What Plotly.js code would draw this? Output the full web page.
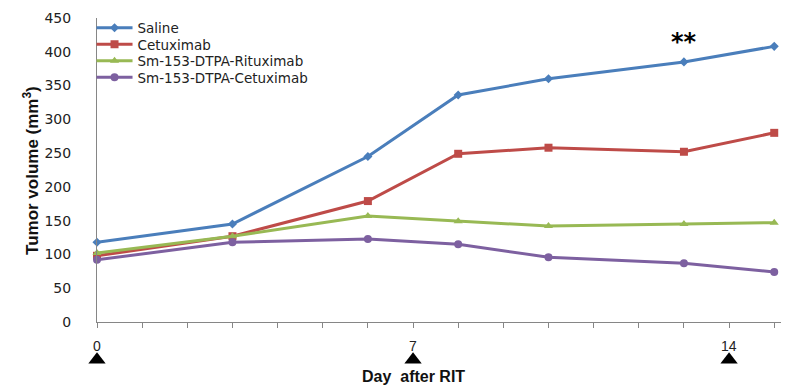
<!DOCTYPE html>
<html>
<head>
<meta charset="utf-8">
<script src="https://cdn.plot.ly/plotly-3.0.1.min.js"></script>
<style>html,body{margin:0;padding:0;background:#fff;}#chart{width:810px;height:390px;}</style>
</head>
<body>
<div id="chart"></div>
<script>
// Data
const days = [0, 3, 6, 8, 10, 13, 15];
const seriesNames = ["Saline", "Cetuximab", "Sm-153-DTPA-Rituximab", "Sm-153-DTPA-Cetuximab"];
const saline = [118, 145, 245, 336, 360, 385, 408];
const cetuximab = [98, 127, 179, 249, 258, 252, 280];
const smRituximab = [102, 127, 157, 149, 142, 145, 147];
const smCetuximab = [92, 118, 123, 115, 96, 87, 74];
const ritDays = [0, 7, 14];
const ritLabels = ["0", "7", "14"];
const allDays = [0,1,2,3,4,5,6,7,8,9,10,11,12,13,14,15];
const yTicks = [0, 50, 100, 150, 200, 250, 300, 350, 400, 450];
const sigDay = 13;
const sigValue = 415;
const sigLabel = "**";

const colors = ["#4A7EBB", "#BE4B48", "#98B954", "#7D60A0"];
const symbols = ["diamond", "square", "triangle-up", "circle"];
const msizes = [7, 8, 8, 8];
const values = [saline, cetuximab, smRituximab, smCetuximab];
const legendIds = ["legend", "legend2", "legend3", "legend4"];
const legendY = [0.9731, 0.9288, 0.8844, 0.8401];

const traces = values.map((v, i) => ({
  x: days, y: v, name: seriesNames[i], type: "scatter", mode: "lines+markers",
  line: {color: colors[i], width: 3},
  marker: {color: colors[i], symbol: symbols[i], size: msizes[i]},
  cliponaxis: false, legend: legendIds[i]
}));

// RIT dose markers in a strip below the axis
traces.push({
  x: ritDays, y: ritDays.map(() => 48), xaxis: "x2", yaxis: "y2", type: "scatter", mode: "markers",
  marker: {symbol: "triangle-up", color: "#000", size: 15},
  showlegend: false, cliponaxis: false, hoverinfo: "skip"
});

const annotations = ritDays.map((d, i) => ({
  x: d, y: 69, xref: "x2", yref: "y2", text: ritLabels[i], showarrow: false,
  font: {family: "Liberation Sans Narrow, Liberation Sans, Arial", size: 14, color: "#222"}
}));
annotations.push({
  x: 7, y: 22, xref: "x2", yref: "y2", text: "Day  after RIT", showarrow: false,
  font: {family: "Liberation Sans, Arial", size: 16, color: "#111", weight: "bold"}
});
annotations.push({
  x: -0.1155, y: 0.5914, xref: "paper", yref: "paper", text: "Tumor volume (mm<sup>3</sup>)",
  showarrow: false, textangle: -90,
  font: {family: "Liberation Sans, Arial", size: 17, color: "#111", weight: "bold"}
});
annotations.push({
  x: sigDay, y: sigValue, xref: "x", yref: "y", text: sigLabel, showarrow: false,
  font: {family: "DejaVu Sans, Arial", size: 24, color: "#000", weight: "bold"}
});

const layout = {
  width: 810, height: 390,
  margin: {l: 97, r: 29, t: 18, b: 0},
  paper_bgcolor: "#fff", plot_bgcolor: "#fff",
  showlegend: true,
  xaxis: {range: [0, 15.15], tickvals: allDays, ticktext: allDays.map(() => ""),
    ticks: "outside", ticklen: 5, tickcolor: "#868686", showline: true, linecolor: "#868686",
    linewidth: 1, showgrid: false, zeroline: false, anchor: "y"},
  yaxis: {range: [0, 450], domain: [0.1828, 1], tickvals: yTicks, ticks: "", showline: true,
    linecolor: "#868686", linewidth: 1, showgrid: false, zeroline: false, ticklabelstandoff: 22,
    tickfont: {family: "DejaVu Sans, Verdana", size: 14, color: "#222"}, anchor: "x"},
  xaxis2: {range: [0, 15.15], visible: false, anchor: "y2"},
  yaxis2: {range: [0, 100], domain: [0, 0.17], visible: false, anchor: "x2"},
  annotations: annotations
};
legendIds.forEach((id, i) => {
  layout[id] = {x: -0.008, y: legendY[i], xanchor: "left", yanchor: "middle",
    bgcolor: "rgba(0,0,0,0)", itemwidth: 36,
    font: {family: "DejaVu Sans, Verdana", size: 13.5, color: "#222"}};
});

Plotly.newPlot("chart", traces, layout, {staticPlot: true, displayModeBar: false});
</script>
</body>
</html>
